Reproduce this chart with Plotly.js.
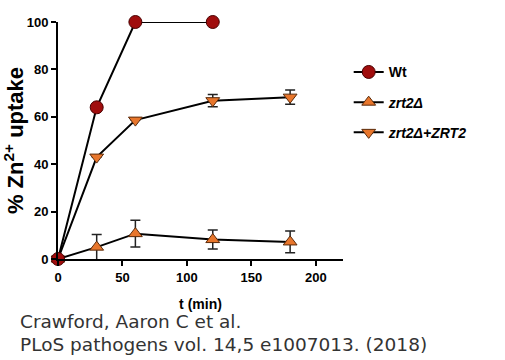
<!DOCTYPE html>
<html>
<head>
<meta charset="utf-8">
<script src="https://cdn.plot.ly/plotly-3.0.1.min.js"></script>
<style>html,body{margin:0;padding:0;background:#fff;}#chart{width:505px;height:360px;}</style>
</head>
<body>
<div id="chart"></div>
<script>
const timeWt = [0, 30, 60, 120];
const uptakeWt = [0, 64, 100, 100];

const timeZrt2 = [0, 30, 60, 120, 180];
const uptakeZrt2 = [0, 5, 10.7, 8.2, 7.2];
const errZrt2 = [0, 5.3, 5.6, 4.0, 4.6];

const timeComp = [0, 30, 60, 120, 180];
const uptakeComp = [0, 43, 58.6, 66.8, 68.3];
const errComp = [0, 0, 0, 2.6, 3.0];

const xTicks = [0, 50, 100, 150, 200];
const yTicks = [0, 20, 40, 60, 80, 100];

const orange = '#e8762c';
const darkred = '#a00d0d';
const FONT = 'Liberation Sans, Arial, sans-serif';

const traces = [
  {
    x: timeComp, y: uptakeComp, name: '<i>zrt2Δ+ZRT2</i>',
    mode: 'lines+markers', legendgroup: 'c', legendrank: 3,
    line: {color: '#000', width: 2},
    marker: {symbol: 'triangle-down', size: 12, color: orange, line: {color: '#5a2a0a', width: 1}},
    error_y: {type: 'data', array: errComp, visible: true, color: '#222', thickness: 1.5, width: 5},
    cliponaxis: false
  },
  {
    x: timeZrt2, y: uptakeZrt2, name: '<i>zrt2Δ</i>',
    mode: 'lines+markers', legendgroup: 'b', legendrank: 2,
    line: {color: '#000', width: 2},
    marker: {symbol: 'triangle-up', size: 12, color: orange, line: {color: '#5a2a0a', width: 1}},
    error_y: {type: 'data', array: errZrt2, visible: true, color: '#222', thickness: 1.5, width: 5},
    cliponaxis: false
  },
  {
    x: timeWt, y: uptakeWt, name: 'Wt',
    mode: 'lines+markers', legendgroup: 'a', legendrank: 1,
    line: {color: '#000', width: 2},
    marker: {symbol: 'circle', size: 13, color: darkred, line: {color: '#4a0000', width: 1}},
    cliponaxis: false
  }
];

const layout = {
  width: 505, height: 360,
  margin: {l: 58, r: 162, t: 22, b: 101},
  paper_bgcolor: '#fff', plot_bgcolor: '#fff',
  font: {family: FONT, color: '#000'},
  showlegend: true,
  legend: {
    x: 1.02, y: 0.855, xanchor: 'left', yanchor: 'top',
    traceorder: 'grouped', tracegroupgap: 9,
    font: {family: FONT, size: 14, color: '#000', weight: 'bold'}, itemwidth: 30,
    bgcolor: 'rgba(0,0,0,0)'
  },
  xaxis: {
    range: [0, 221], tickvals: xTicks,
    showgrid: false, zeroline: false, showline: true, linecolor: '#000', linewidth: 2,
    ticks: 'outside', ticklen: 5, tickwidth: 2, tickcolor: '#000',
    tickfont: {family: FONT, size: 13, color: '#000', weight: 'bold'},
    title: {text: 't (min)', font: {family: FONT, size: 14, color: '#000', weight: 'bold'}, standoff: 16}
  },
  yaxis: {
    range: [0, 100], tickvals: yTicks,
    showgrid: false, zeroline: false, showline: true, linecolor: '#000', linewidth: 2,
    ticks: 'outside', ticklen: 5, tickwidth: 2, tickcolor: '#000',
    tickfont: {family: FONT, size: 13, color: '#000', weight: 'bold'},
    title: {text: '% Zn<sup>2+</sup> uptake', font: {family: FONT, size: 22, color: '#000', weight: 'bold'}, standoff: 8}
  },
  annotations: [
    {xref: 'paper', yref: 'paper', x: -0.14, y: -0.265, xanchor: 'left', yanchor: 'middle',
     text: 'Crawford, Aaron C et al.', showarrow: false,
     font: {family: 'DejaVu Sans', size: 18.5, color: '#333'}},
    {xref: 'paper', yref: 'paper', x: -0.14, y: -0.362, xanchor: 'left', yanchor: 'middle',
     text: 'PLoS pathogens vol. 14,5 e1007013. (2018)', showarrow: false,
     font: {family: 'DejaVu Sans', size: 18.5, color: '#333'}}
  ]
};

Plotly.newPlot('chart', traces, layout, {displayModeBar: false, staticPlot: true});
</script>
</body>
</html>
